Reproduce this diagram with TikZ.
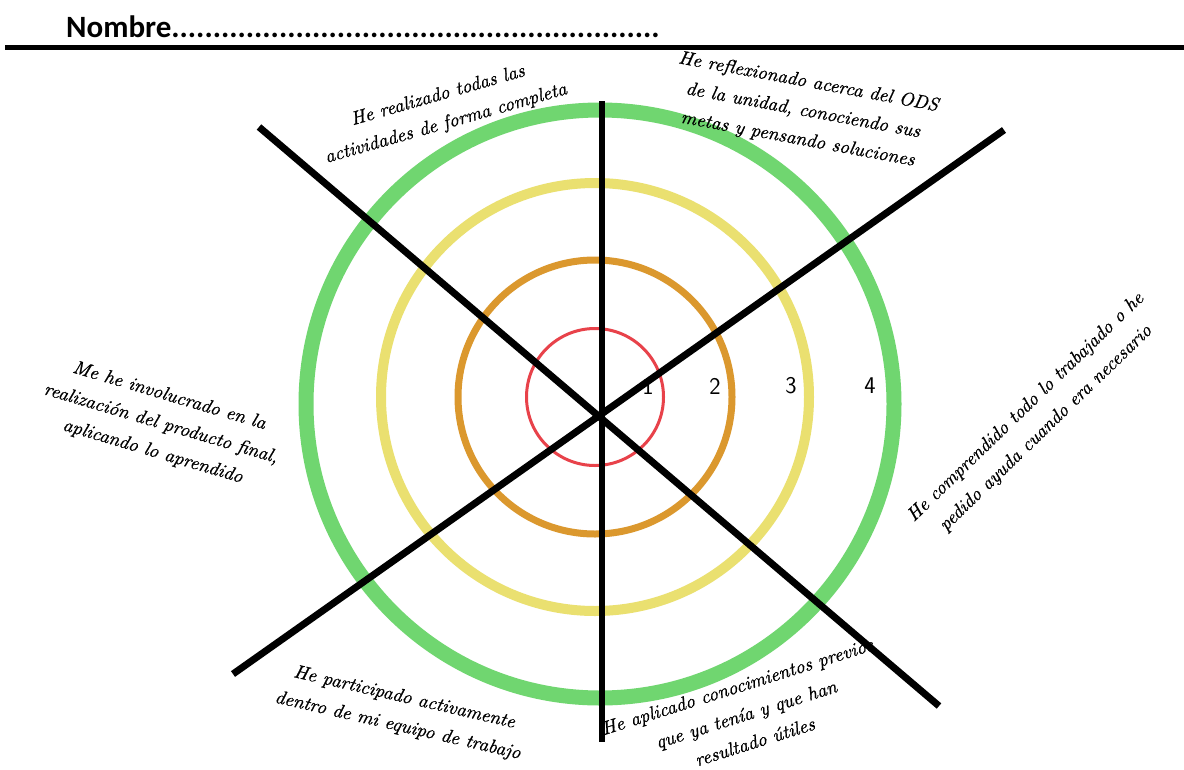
\documentclass[tikz,border=0pt]{standalone}
\usepackage{fontspec}
\newfontfamily\titlefont{Carlito}
\newfontfamily\handfont{lmroman10-italic.otf}[FakeBold=0.9]
\definecolor{ringgreen}{RGB}{112,214,112}
\definecolor{ringyellow}{RGB}{234,224,112}
\definecolor{ringorange}{RGB}{219,152,46}
\definecolor{ringred}{RGB}{232,66,74}
\begin{document}
\begin{tikzpicture}[x=1pt,y=-1pt,
  lbl/.style={font=\handfont\fontsize{19}{29}\selectfont, align=center, inner sep=0pt},
  num/.style={font=\sffamily\fontsize{24}{24}\selectfont, inner sep=0pt},
  spoke/.style={line width=7pt, black}]
\useasboundingbox (0,0) rectangle (1184,769);
\fill[white] (0,0) rectangle (1184,769);
% title
\node[anchor=base west, inner sep=0pt, font=\titlefont\bfseries\fontsize{31}{31}\selectfont] (title) at (66,37) {Nombre...........................................................};
\coordinate (r1) at (5,47);
\coordinate (r2) at (1184,47);
\draw[line width=5pt] (r1) -- (r2);
% rings
\coordinate (cg) at (600,404);
\coordinate (cc) at (595,397);
\draw[ringgreen, line width=15pt] (cg) circle[radius=294];
\draw[ringyellow, line width=10pt] (cc) circle[radius=214];
\draw[ringorange, line width=7pt] (cc) circle[radius=137];
\draw[ringred, line width=3pt] (cc) circle[radius=68.5];
% labels
\node[lbl, rotate=16] (t1) at (442,110) {He realizado todas las\\actividades de forma completa};
\node[lbl, rotate=-10.5] (t2) at (803,111) {He reflexionado acerca del ODS\\de la unidad, conociendo sus\\metas y pensando soluciones};
\node[lbl, rotate=44] (t3) at (1036,418) {He comprendido todo lo trabajado o he\\pedido ayuda cuando era necesario};
\node[lbl, rotate=-16.5] (t4) at (161,424) {Me he involucrado en la\\realización del producto final,\\aplicando lo aprendido};
\node[lbl, rotate=-13] (t5) at (401,712) {He participado activamente\\dentro de mi equipo de trabajo};
\node[lbl, rotate=17.5] (t6) at (746,714) {He aplicado conocimientos previos\\que ya tenía y que han\\resultado útiles};
% numbers
\node[num] (n1) at (648,386) {1};
\node[num] (n2) at (715,386) {2};
\node[num] (n3) at (791,386) {3};
\node[num] (n4) at (870,386) {4};
% spokes
\coordinate (va) at (602,101);
\coordinate (vb) at (602,742);
\coordinate (aa) at (259,127);
\coordinate (ab) at (939,706);
\coordinate (ba) at (1004,130);
\coordinate (bb) at (233,674);
\draw[line width=6.5pt] (va) -- (vb);
\draw[spoke] (aa) -- (ab);
\draw[spoke] (ba) -- (bb);
\end{tikzpicture}
\end{document}
